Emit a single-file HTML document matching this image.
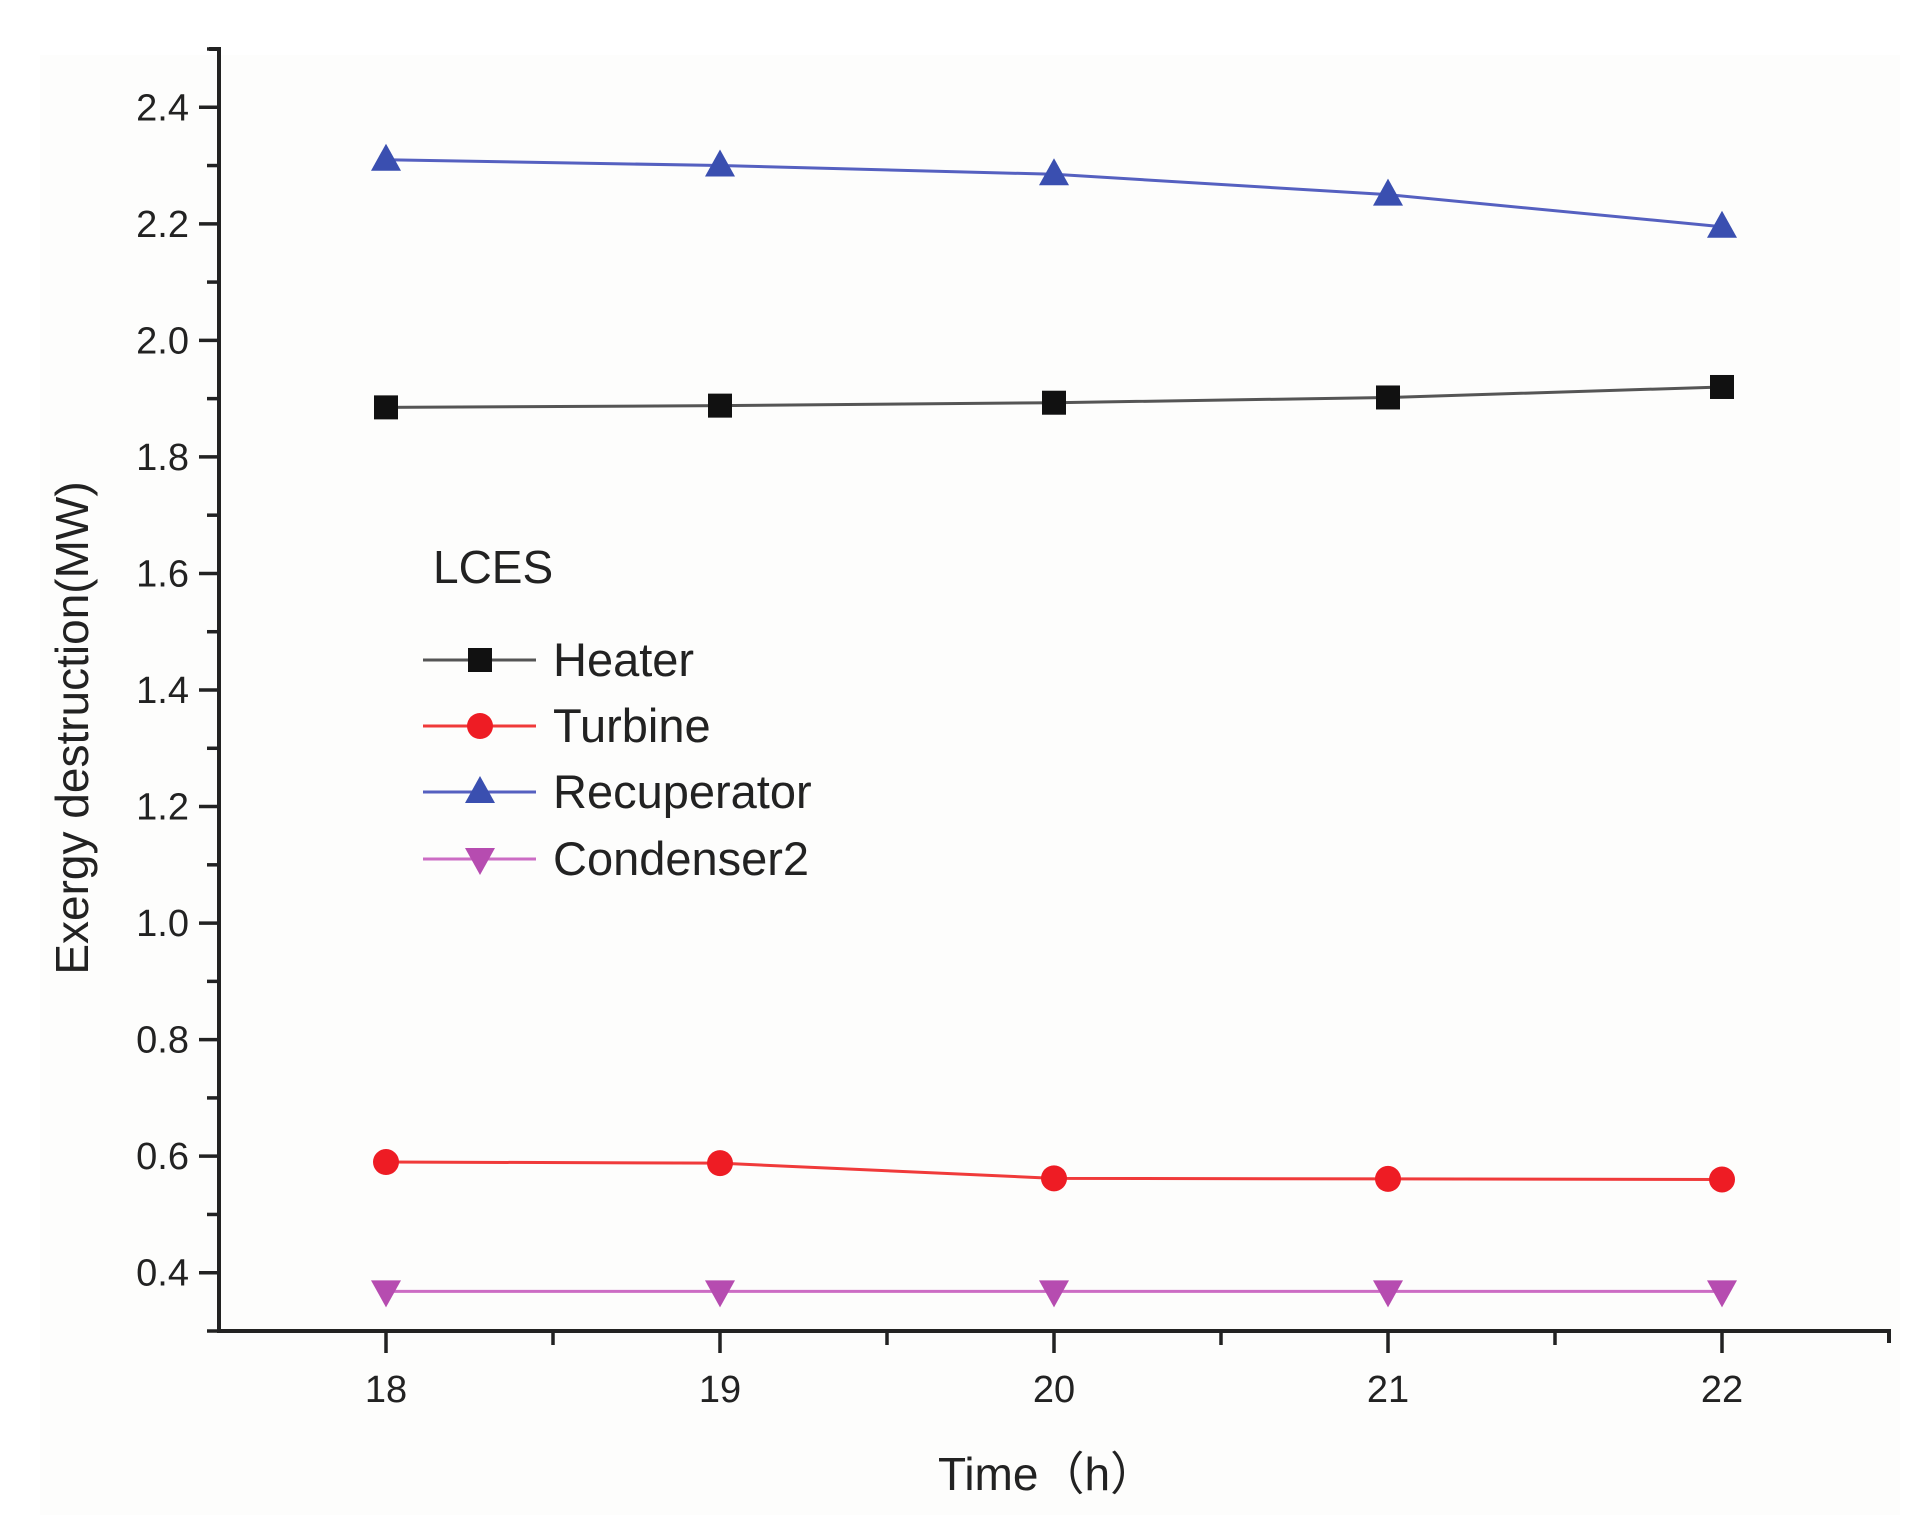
<!DOCTYPE html>
<html><head><meta charset="utf-8"><style>
html,body{margin:0;padding:0;background:#fff;}
svg{display:block;font-family:"Liberation Sans","Noto Sans CJK SC",sans-serif;}
</style></head><body>
<svg id="chart" width="1930" height="1531" viewBox="0 0 1930 1531" xmlns="http://www.w3.org/2000/svg">
<rect x="40" y="55" width="1860" height="1460" fill="#fdfdfc"/>
<g id="axes"></g><g id="series"></g><g id="legend"></g>
</svg>
<script>
const categories = [18, 19, 20, 21, 22];
const heater = [1.885, 1.888, 1.893, 1.902, 1.92];
const turbine = [0.59, 0.588, 0.562, 0.561, 0.56];
const recuperator = [2.31, 2.30, 2.285, 2.25, 2.195];
const condenser2 = [0.368, 0.368, 0.368, 0.368, 0.368];
const yTicks = ["0.4","0.6","0.8","1.0","1.2","1.4","1.6","1.8","2.0","2.2","2.4"];
const xTicks = ["18","19","20","21","22"];

const NS="http://www.w3.org/2000/svg";
const X0=219,X1=1889,Y0=1331,Y1=49;
const xMin=17.5,xMax=22.5,yMin=0.3,yMax=2.5;
function xs(v){return X0+(v-xMin)/(xMax-xMin)*(X1-X0);}
function ys(v){return Y0-(v-yMin)/(yMax-yMin)*(Y0-Y1);}
function mk(tag,attrs,parent){const e=document.createElementNS(NS,tag);for(const k in attrs)e.setAttribute(k,attrs[k]);parent.appendChild(e);return e;}
const axes=document.getElementById('axes'),ser=document.getElementById('series'),leg=document.getElementById('legend');

let a=mk('path',{d:`M${X0-10} ${Y1} H${X0} V${Y0} H${X1} V${Y0+12}`,fill:'none',stroke:'#222','stroke-width':4},axes);


for(let v=0.3;v<=2.501;v+=0.1){
  const major=Math.abs(Math.round(v*10)%2)===0;
  const t=mk('line',{x1:X0-(major?20:12),x2:X0,y1:ys(v),y2:ys(v),stroke:'#222','stroke-width':3.5},axes);
  
  
}
yTicks.forEach(s=>{
  const t=mk('text',{x:X0-30,y:ys(parseFloat(s))+13,'text-anchor':'end','font-size':38,fill:'#222'},axes);
  t.textContent=s;
  
  
});
for(let v=18;v<=22.01;v+=0.5){
  const major=Number.isInteger(v);
  const t=mk('line',{x1:xs(v),x2:xs(v),y1:Y0,y2:Y0+(major?22:14),stroke:'#222','stroke-width':3.5},axes);
  
  
}
xTicks.forEach(s=>{
  const t=mk('text',{x:xs(parseFloat(s)),y:1402,'text-anchor':'middle','font-size':38,fill:'#222'},axes);
  t.textContent=s;
  
  
});
let xt=mk('text',{x:1047,y:1490,'text-anchor':'middle','font-size':46,fill:'#222'},axes);
xt.textContent='Time（h）';


let yt=mk('text',{x:0,y:0,'text-anchor':'middle','font-size':46,fill:'#222',transform:'translate(88,728) rotate(-90)'},axes);
yt.textContent='Exergy destruction(MW)';



function marker(type,x,y,color,parent){
  let m;
  if(type==='square') m=mk('rect',{x:x-12,y:y-12,width:24,height:24,fill:color},parent);
  else if(type==='circle') m=mk('circle',{cx:x,cy:y,r:13,fill:color},parent);
  else if(type==='up') m=mk('polygon',{points:`${x},${y-16} ${x-15},${y+11} ${x+15},${y+11}`,fill:color},parent);
  else m=mk('polygon',{points:`${x},${y+16} ${x-15},${y-11} ${x+15},${y-11}`,fill:color},parent);
  return m;
}
const seriesDefs=[
 {name:'Heater',data:heater,color:'#111',line:'#555',m:'square',id:'heater'},
 {name:'Turbine',data:turbine,color:'#ee1c24',line:'#f03a3a',m:'circle',id:'turbine'},
 {name:'Recuperator',data:recuperator,color:'#3a4fb0',line:'#5560c0',m:'up',id:'recuperator'},
 {name:'Condenser2',data:condenser2,color:'#b64cb0',line:'#cc6cc4',m:'down',id:'condenser2'}
];
seriesDefs.forEach(s=>{
  const g=mk('g',{},ser);
  
  
  const pts=s.data.map((v,i)=>xs(categories[i])+','+ys(v)).join(' ');
  const l=mk('polyline',{points:pts,fill:'none',stroke:s.line,'stroke-width':3},g);
  
  
  s.data.forEach((v,i)=>{
    const m=marker(s.m,xs(categories[i]),ys(v),s.color,g);
    
    
  });
});
let lt=mk('text',{x:433,y:583,'font-size':46,fill:'#222'},leg);
lt.textContent='LCES';


const legY=[660,726,792,859];
seriesDefs.forEach((s,i)=>{
  const g=mk('g',{},leg);
  
  
  mk('line',{x1:423,x2:536,y1:legY[i],y2:legY[i],stroke:s.line,'stroke-width':3},g);
  marker(s.m,480,legY[i],s.color,g);
  const t=mk('text',{x:553,y:legY[i]+16,'font-size':47,fill:'#222'},g);
  t.textContent=s.name;
});
</script>
</body></html>
